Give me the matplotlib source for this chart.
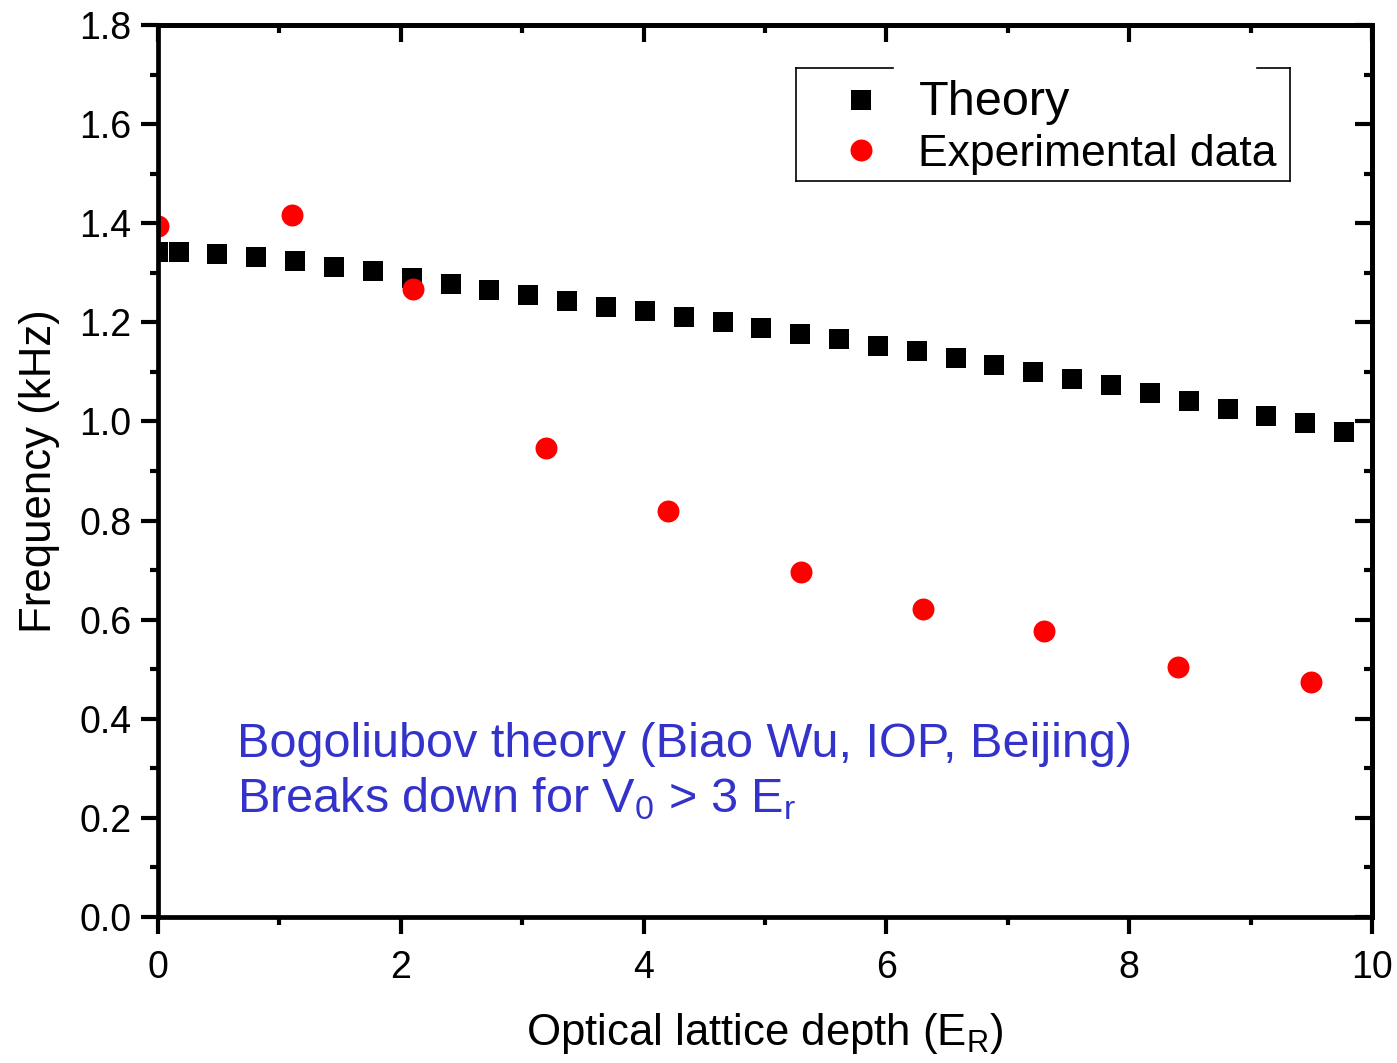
import matplotlib
matplotlib.use("Agg")
import matplotlib.pyplot as plt
from matplotlib.lines import Line2D
from matplotlib.ticker import MultipleLocator

plt.rcParams['font.family'] = ['Liberation Sans', 'DejaVu Sans']
plt.rcParams['mathtext.fontset'] = 'custom'
plt.rcParams['mathtext.rm'] = 'Liberation Sans'
plt.rcParams['mathtext.it'] = 'Liberation Sans'

# theory curve (squares)
theory_x = [0.0, 0.17, 0.49, 0.81, 1.13, 1.45, 1.77, 2.09, 2.41, 2.73, 3.05,
            3.37, 3.69, 4.01, 4.33, 4.65, 4.97, 5.29, 5.61, 5.93, 6.25, 6.57,
            6.89, 7.21, 7.53, 7.85, 8.17, 8.49, 8.81, 9.13, 9.45, 9.77]
theory_y = [1.342, 1.341, 1.337, 1.331, 1.323, 1.312, 1.303, 1.290, 1.278,
            1.266, 1.256, 1.244, 1.231, 1.222, 1.210, 1.200, 1.188, 1.177,
            1.166, 1.153, 1.142, 1.128, 1.113, 1.100, 1.085, 1.073, 1.058,
            1.042, 1.026, 1.011, 0.996, 0.979]

# experiment (red dots)
exp_x = [0.0, 1.1, 2.1, 3.2, 4.2, 5.3, 6.3, 7.3, 8.4, 9.5]
exp_y = [1.395, 1.417, 1.267, 0.946, 0.819, 0.696, 0.621, 0.577, 0.504, 0.474]

fig = plt.figure(figsize=(13.97, 10.63), dpi=100)
ax = fig.add_axes([0.1131, 0.1373, 0.869, 0.8392])

ax.plot(theory_x, theory_y, 's', color='black', markersize=14.4,
        markeredgewidth=0, label='Theory')
ax.plot(exp_x, exp_y, 'o', color='red', markersize=15.8,
        markeredgewidth=0, label='Experimental data')

ax.set_xlim(0, 10)
ax.set_ylim(0, 1.8)
ax.xaxis.set_major_locator(MultipleLocator(2))
ax.xaxis.set_minor_locator(MultipleLocator(1))
ax.yaxis.set_major_locator(MultipleLocator(0.2))
ax.yaxis.set_minor_locator(MultipleLocator(0.1))
ax.yaxis.set_major_formatter(matplotlib.ticker.FormatStrFormatter('%.1f'))

for s in ax.spines.values():
    s.set_linewidth(3.4)
ax.tick_params(which='major', direction='out', length=12, width=3,
               labelsize=27)
ax.tick_params(axis='x', which='major', pad=12)
ax.tick_params(axis='y', which='major', pad=7)
ax.tick_params(which='minor', direction='out', length=6, width=3)

# mirrored ticks on top/right pointing inward
top = ax.secondary_xaxis('top')
top.xaxis.set_major_locator(MultipleLocator(2))
top.xaxis.set_minor_locator(MultipleLocator(1))
top.tick_params(which='major', direction='in', length=12, width=3, labeltop=False)
top.tick_params(which='minor', direction='in', length=6, width=3)
right = ax.secondary_yaxis('right')
right.yaxis.set_major_locator(MultipleLocator(0.2))
right.yaxis.set_minor_locator(MultipleLocator(0.1))
right.tick_params(which='major', direction='in', length=12, width=3, labelright=False)
right.tick_params(which='minor', direction='in', length=6, width=3)
for sa in (top, right):
    for s in sa.spines.values():
        s.set_linewidth(3.4)

ax.set_xlabel('Optical lattice depth (E$_\\mathregular{R}$)', fontsize=31.5, labelpad=18)
ax.set_ylabel('Frequency (kHz)', fontsize=31.5, labelpad=14)

ax.text(0.065, 0.179, 'Bogoliubov theory (Biao Wu, IOP, Beijing)',
        transform=ax.transAxes, fontsize=35, color='#3333CC', va='baseline')
ax.text(0.065, 0.118, 'Breaks down for V$_0$ > 3 E$_r$',
        transform=ax.transAxes, fontsize=35, color='#3333CC', va='baseline')

leg = ax.legend(loc='upper right', bbox_to_anchor=(0.951, 0.978), frameon=False,
                fontsize=32, handletextpad=0.6, labelspacing=0.2,
                borderpad=0.3, handlelength=1.4)
leg.get_texts()[0].set_fontsize(35)

# legend frame with a gap in its top edge, as in the source
W, H = 1397.0, 1063.0
x0, x1 = 796 / W, 1290 / W
y0, y1 = 1 - 181 / H, 1 - 68 / H
for xs, ys in [([x0, x0], [y0, y1]), ([x1, x1], [y0, y1]), ([x0, x1], [y0, y0]),
               ([x0, 893 / W], [y1, y1]), ([1257 / W, x1], [y1, y1])]:
    fig.add_artist(Line2D(xs, ys, color='black', linewidth=1.2))

fig.savefig('out.png', dpi=100)
